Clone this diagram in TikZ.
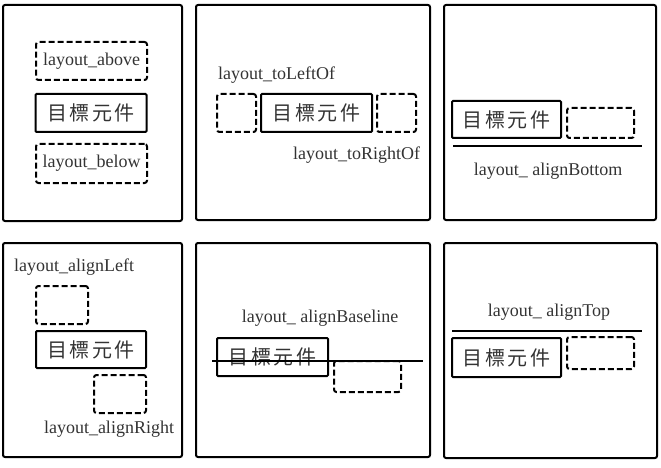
\documentclass[tikz,border=0pt]{standalone}
\usepackage{fontspec}
\setmainfont{Liberation Serif}
\newfontfamily\cjk[LetterSpace=12]{Noto Sans CJK TC}
\usepackage{tikz}

\begin{document}
\begin{tikzpicture}[x=1pt,y=-1pt,
  panel/.style={line width=2pt, rounded corners=2pt},
  target/.style={draw=black, line width=2pt, rounded corners=1pt, inner sep=0pt, text=black!80, font=\cjk\fontsize{20}{22}\selectfont},
  slot/.style={draw=black, line width=2pt, dash pattern=on 6pt off 3pt, rounded corners=2.5pt, inner sep=0pt, text=black!80, font=\fontsize{18}{20}\selectfont},
  lbl/.style={inner sep=0pt, text=black!80, font=\fontsize{18}{20}\selectfont}]
\useasboundingbox (0,0) rectangle (661,468);
\draw[panel] (3,5) rectangle (182,221);
\draw[panel] (196,5) rectangle (430,220);
\draw[panel] (444,5) rectangle (656,220);
\draw[panel] (3,243) rectangle (182,457);
\draw[panel] (196,243) rectangle (430,457);
\draw[panel] (444,243) rectangle (657,458);
% above / below
\node [slot, minimum width=111, minimum height=38] (A) at (91.5,61) {layout\_above};
\node [target, minimum width=111, minimum height=38] (B) at (91,113) {目標元件};
\node [slot, minimum width=111, minimum height=39] (C) at (91.5,163.5) {layout\_below};
% toLeftOf / toRightOf
\node [slot, minimum width=39, minimum height=38] (D) at (236.5,113) {};
\node [target, minimum width=111, minimum height=38] (E) at (316.5,113) {目標元件};
\node [slot, minimum width=39, minimum height=38] (F) at (396.5,113) {};
\node [lbl, anchor=west] (G) at (218,75) {layout\_toLeftOf};
\node [lbl] (H) at (356.5,155) {layout\_toRightOf};
% alignBottom
\node [target, minimum width=109, minimum height=37] (I) at (506.5,119.5) {目標元件};
\node [slot, minimum width=67, minimum height=30] (J) at (600.5,123) {};
\coordinate (J1) at (453,146);
\coordinate (J2) at (642,146);
\draw[line width=1.6pt] (J1) -- (J2);
\node [lbl] (K) at (548,171) {layout\_ alignBottom};
% alignLeft / alignRight
\node [lbl, anchor=west] (L) at (14,267) {layout\_alignLeft};
\node [slot, minimum width=52, minimum height=38] (M) at (62,305) {};
\node [target, minimum width=110, minimum height=37] (N) at (91,349.5) {目標元件};
\node [slot, minimum width=52, minimum height=38] (O) at (120,394) {};
\node [lbl] (P) at (109,429) {layout\_alignRight};
% alignBaseline
\node [lbl] (Q) at (320,318) {layout\_ alignBaseline};
\node [target, minimum width=111, minimum height=38] (R) at (272.5,357) {目標元件};
\node [slot, minimum width=67, minimum height=31] (S) at (367.5,376.5) {};
\coordinate (S1) at (212,361);
\coordinate (S2) at (423,361);
\draw[line width=1.6pt] (S1) -- (S2);
% alignTop
\node [lbl] (T) at (549,312) {layout\_ alignTop};
\coordinate (T1) at (452,331);
\coordinate (T2) at (642,331);
\draw[line width=1.6pt] (T1) -- (T2);
\node [target, minimum width=109, minimum height=39] (U) at (506.5,357.5) {目標元件};
\node [slot, minimum width=67, minimum height=32] (V) at (600.5,353) {};
\end{tikzpicture}
\end{document}
